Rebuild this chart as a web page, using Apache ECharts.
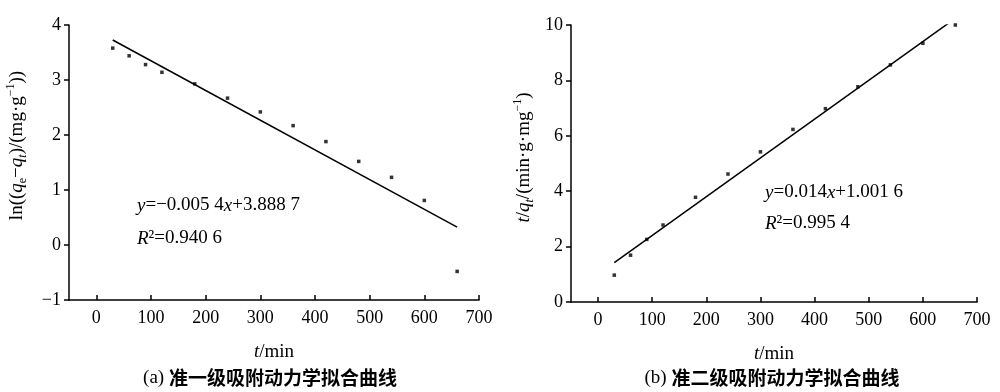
<!DOCTYPE html>
<html>
<head>
<meta charset="utf-8">
<script src="https://cdn.jsdelivr.net/npm/echarts@6/dist/echarts.min.js"></script>
<style>html,body{margin:0;padding:0;background:#fff}#c{width:1000px;height:392px}</style>
</head>
<body>
<div id="c"></div>
<script>
// ---- data ----
const timeMin = [30, 60, 90, 120, 180, 240, 300, 360, 420, 480, 540, 600, 660];
const lnQeQt = [3.58, 3.44, 3.28, 3.14, 2.93, 2.67, 2.42, 2.17, 1.88, 1.52, 1.23, 0.81, -0.48];
const tOverQt = [0.97, 1.69, 2.26, 2.78, 3.78, 4.62, 5.42, 6.23, 6.98, 7.77, 8.56, 9.34, 10.0];
const fitAX = [30, 660];
const fitAY = [3.727, 0.325];
const fitBX = [30, 660];
const fitBY = [1.422, 10.242];
const xTicks = [0, 100, 200, 300, 400, 500, 600, 700];
const captionA = ['(a) ', '准一级吸附动力学拟合曲线'];
const captionB = ['(b) ', '准二级吸附动力学拟合曲线'];

const SERIF = '"Liberation Serif", "Times New Roman", serif';
const pairs = (xs, ys) => xs.map((x, i) => [x, ys[i]]);
const minus = v => String(v).replace('-', '−');

const richName = {
  n: {fontFamily: SERIF, fontSize: 19, color: '#000', lineHeight: 24},
  i: {fontFamily: SERIF, fontSize: 19, fontStyle: 'italic', color: '#000', lineHeight: 24},
  s: {fontFamily: SERIF, fontSize: 12, color: '#000', lineHeight: 13, verticalAlign: 'bottom'},
  si: {fontFamily: SERIF, fontSize: 12, fontStyle: 'italic', color: '#000', lineHeight: 13, verticalAlign: 'bottom'},
  p: {fontFamily: SERIF, fontSize: 12, color: '#000', lineHeight: 13, verticalAlign: 'top'}
};
const richCap = {
  a: {fontFamily: SERIF, fontSize: 19, color: '#000'},
  c: {fontFamily: '"Noto Sans CJK SC", sans-serif', fontSize: 19, fontWeight: 'bold', color: '#000'}
};

function xAxisCfg(gi) {
  return {
    gridIndex: gi, type: 'value', min: -50, max: 700, interval: 50,
    axisLine: {show: true, onZero: false, lineStyle: {color: '#000', width: 1.5}},
    axisTick: {show: true, inside: true, length: 5, customValues: xTicks, lineStyle: {color: '#000', width: 1.5}},
    axisLabel: {customValues: xTicks, color: '#000', fontFamily: SERIF, fontSize: 18, margin: 9},
    splitLine: {show: false},
    name: '{i|t}{n|/min}', nameLocation: 'middle', nameGap: 40,
    nameTextStyle: {rich: richName}
  };
}

const option = {
  animation: false,
  backgroundColor: '#fff',
  grid: [
    {left: 69, top: 25, width: 410, height: 275},
    {left: 571, top: 25, width: 406, height: 277}
  ],
  xAxis: [xAxisCfg(0), xAxisCfg(1)],
  yAxis: [
    {
      gridIndex: 0, type: 'value', min: -1, max: 4, interval: 1,
      axisLine: {show: true, onZero: false, lineStyle: {color: '#000', width: 1.5}},
      axisTick: {show: true, inside: false, length: 5, lineStyle: {color: '#000', width: 1.5}},
      axisLabel: {color: '#000', fontFamily: SERIF, fontSize: 18, margin: 8, formatter: minus},
      splitLine: {show: false},
      name: '{n|ln((}{i|q}{s|e}{n|−}{i|q}{si|t}{n|)/(mg·g}{p|−1}{n|))}',
      nameLocation: 'middle', nameRotate: 90, nameGap: 40,
      nameTextStyle: {rich: richName, padding: [0, 0, 0, 34]}
    },
    {
      gridIndex: 1, type: 'value', min: 0, max: 10, interval: 2,
      axisLine: {show: true, onZero: false, lineStyle: {color: '#000', width: 1.5}},
      axisTick: {show: true, inside: false, length: 5, lineStyle: {color: '#000', width: 1.5}},
      axisLabel: {color: '#000', fontFamily: SERIF, fontSize: 18, margin: 8, formatter: minus},
      splitLine: {show: false},
      name: '{i|t}{n|/}{i|q}{si|t}{n|/(min·g·mg}{p|−1}{n|)}',
      nameLocation: 'middle', nameRotate: 90, nameGap: 35,
      nameTextStyle: {rich: richName, padding: [0, 0, 0, 12]}
    }
  ],
  series: [
    {type: 'scatter', xAxisIndex: 0, yAxisIndex: 0, data: pairs(timeMin, lnQeQt),
     symbol: 'rect', symbolSize: 3.5, itemStyle: {color: '#000'}, silent: true},
    {type: 'line', xAxisIndex: 0, yAxisIndex: 0, data: pairs(fitAX, fitAY),
     showSymbol: false, lineStyle: {color: '#000', width: 1.5}, silent: true},
    {type: 'scatter', xAxisIndex: 1, yAxisIndex: 1, data: pairs(timeMin, tOverQt),
     symbol: 'rect', symbolSize: 3.5, itemStyle: {color: '#000'}, silent: true},
    {type: 'line', xAxisIndex: 1, yAxisIndex: 1, data: pairs(fitBX, fitBY),
     showSymbol: false, lineStyle: {color: '#000', width: 1.5}, silent: true}
  ],
  graphic: [
    {type: 'text', left: 137, top: 196, style: {
      text: '{i|y}{n|=−0.005 4}{i|x}{n|+3.888 7}', rich: richName}},
    {type: 'text', left: 137, top: 229, style: {
      text: '{i|R}{n|²=0.940 6}', rich: richName}},
    {type: 'text', left: 765, top: 183, style: {
      text: '{i|y}{n|=0.014}{i|x}{n|+1.001 6}', rich: richName}},
    {type: 'text', left: 765, top: 214, style: {
      text: '{i|R}{n|²=0.995 4}', rich: richName}},
    {type: 'text', x: 270, y: 378, style: {
      text: '{a|' + captionA[0] + '}{c|' + captionA[1] + '}', rich: richCap,
      align: 'center', verticalAlign: 'middle'}},
    {type: 'text', x: 772, y: 378, style: {
      text: '{a|' + captionB[0] + '}{c|' + captionB[1] + '}', rich: richCap,
      align: 'center', verticalAlign: 'middle'}}
  ]
};
echarts.init(document.getElementById('c'), null, {renderer: 'canvas'}).setOption(option);
</script>
</body>
</html>
